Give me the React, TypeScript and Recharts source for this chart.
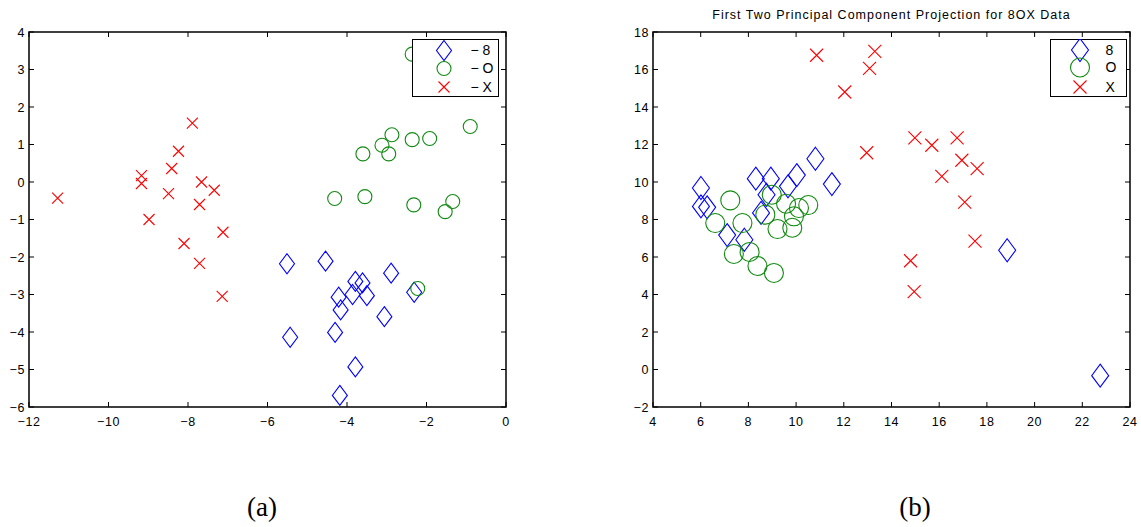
import React from "react";
import { ScatterChart, Scatter, XAxis, YAxis, ReferenceArea } from "recharts";

// ---------- data ----------
const leftEight: [number, number][] = [
  [-5.51, -2.18], [-4.54, -2.11], [-2.89, -2.43], [-3.79, -2.65], [-3.61, -2.69],
  [-4.21, -3.07], [-3.86, -3.0], [-3.5, -3.03], [-2.31, -2.94], [-4.16, -3.41],
  [-3.06, -3.59], [-4.3, -4.01], [-5.43, -4.14], [-3.79, -4.93], [-4.18, -5.69],
];
const leftO: [number, number][] = [
  [-2.36, 3.41], [-0.9, 1.48], [-2.87, 1.26], [-2.36, 1.13], [-1.92, 1.16],
  [-3.12, 0.98], [-3.6, 0.75], [-2.95, 0.75], [-4.31, -0.44], [-3.55, -0.39],
  [-2.32, -0.61], [-1.34, -0.52], [-1.53, -0.79], [-2.22, -2.84],
];
const leftX: [number, number][] = [
  [-11.28, -0.43], [-9.17, 0.17], [-9.17, -0.04], [-8.98, -1.0], [-8.49, -0.31],
  [-8.41, 0.36], [-8.24, 0.82], [-7.89, 1.57], [-8.1, -1.64], [-7.66, 0.0],
  [-7.71, -0.6], [-7.71, -2.17], [-7.34, -0.22], [-7.12, -1.34], [-7.14, -3.05],
];

const rightEight: [number, number][] = [
  [6.01, 9.68], [6.01, 8.7], [6.27, 8.65], [7.11, 7.17], [7.83, 6.92],
  [8.31, 10.18], [8.94, 10.18], [8.76, 9.32], [8.53, 8.35], [9.66, 9.77],
  [10.03, 10.37], [10.81, 11.24], [11.5, 9.89], [18.85, 6.36], [22.75, -0.33],
];
const rightO: [number, number][] = [
  [7.24, 9.02], [6.61, 7.81], [7.75, 7.81], [7.39, 6.16], [8.05, 6.27],
  [8.38, 5.52], [9.07, 5.15], [8.98, 9.32], [8.71, 8.26], [9.58, 8.84],
  [9.22, 7.49], [9.84, 7.56], [9.91, 8.17], [10.12, 8.61], [10.51, 8.77],
];
const rightX: [number, number][] = [
  [10.86, 16.76], [13.3, 16.97], [13.08, 16.06], [12.04, 14.8], [12.96, 11.56],
  [14.98, 12.35], [15.69, 11.96], [16.75, 12.35], [16.95, 11.16], [17.59, 10.71],
  [16.11, 10.3], [17.07, 8.93], [17.5, 6.85], [14.8, 5.8], [14.95, 4.15],
];

const leftXTicks = [-12, -10, -8, -6, -4, -2, 0];
const leftYTicks = [-6, -5, -4, -3, -2, -1, 0, 1, 2, 3, 4];
const rightXTicks = [4, 6, 8, 10, 12, 14, 16, 18, 20, 22, 24];
const rightYTicks = [-2, 0, 2, 4, 6, 8, 10, 12, 14, 16, 18];

const leftLegendLabels = ["\u2212 8", "\u2212 O", "\u2212 X"];
const rightLegendLabels = ["8", "O", "X"];
const rightTitle = "First Two Principal Component Projection for 8OX Data";
const panelLabels = ["(a)", "(b)"];

// ---------- styling ----------
const BLUE = "#0000ff";
const GREEN = "#118a11";
const RED = "#ff0000";
const SANS = "'Liberation Sans', Arial, Helvetica, sans-serif";
const SERIF = "'Liberation Serif', 'DejaVu Serif', serif";

// plot area inside each 520x440 chart
const PLOT_TOP = 32;
const PLOT_BOTTOM = 407;
const PLOT_LEFT = 29;
const PLOT_RIGHT = 506;
const TICK_LEN = 5;

const toPts = (arr: [number, number][]) => arr.map(([x, y]) => ({ x, y }));
const fmt = (v: number) => (v < 0 ? "\u2212" + Math.abs(v) : String(v));

type Sz = { dw: number; dh: number; r: number; xs: number };

const diamondPath = (cx: number, cy: number, w: number, h: number) =>
  `M${cx},${cy - h}L${cx + w},${cy}L${cx},${cy + h}L${cx - w},${cy}Z`;

const makeDiamond = (s: Sz) => (p: any) => (
  <path d={diamondPath(p.cx, p.cy, s.dw, s.dh)} fill="none" stroke={BLUE} strokeWidth={1.1} />
);
const makeCircle = (s: Sz) => (p: any) => (
  <circle cx={p.cx} cy={p.cy} r={s.r} fill="none" stroke={GREEN} strokeWidth={1.1} />
);
const makeCross = (s: Sz) => (p: any) => (
  <path
    d={`M${p.cx - s.xs},${p.cy - s.xs}L${p.cx + s.xs},${p.cy + s.xs}M${p.cx - s.xs},${p.cy + s.xs}L${p.cx + s.xs},${p.cy - s.xs}`}
    fill="none"
    stroke={RED}
    strokeWidth={1.1}
  />
);

const labelStyle = { fontSize: 12.5, fill: "#000", fontFamily: SANS, letterSpacing: 0.6 } as const;

const XTick = (p: any) => {
  const x = p.x;
  const v = p.payload?.value;
  return (
    <g>
      <line x1={x} x2={x} y1={PLOT_BOTTOM} y2={PLOT_BOTTOM - TICK_LEN} stroke="#000" strokeWidth={1} />
      <line x1={x} x2={x} y1={PLOT_TOP} y2={PLOT_TOP + TICK_LEN} stroke="#000" strokeWidth={1} />
      <text x={x} y={PLOT_BOTTOM + 19} textAnchor="middle" style={labelStyle}>
        {fmt(v)}
      </text>
    </g>
  );
};

const YTick = (p: any) => {
  const y = p.y;
  const v = p.payload?.value;
  return (
    <g>
      <line x1={PLOT_LEFT} x2={PLOT_LEFT + TICK_LEN} y1={y} y2={y} stroke="#000" strokeWidth={1} />
      <line x1={PLOT_RIGHT} x2={PLOT_RIGHT - TICK_LEN} y1={y} y2={y} stroke="#000" strokeWidth={1} />
      <text x={PLOT_LEFT - 4} y={y + 4.5} textAnchor="end" style={labelStyle}>
        {fmt(v)}
      </text>
    </g>
  );
};

type PanelProps = {
  left: number;
  xDomain: [number, number];
  yDomain: [number, number];
  xTicks: number[];
  yTicks: number[];
  eight: [number, number][];
  oo: [number, number][];
  xx: [number, number][];
  size: Sz;
};

const Panel = ({ left, xDomain, yDomain, xTicks, yTicks, eight, oo, xx, size }: PanelProps) => (
  <div style={{ position: "absolute", left, top: 0 }}>
    <ScatterChart
      width={520}
      height={440}
      margin={{ top: PLOT_TOP, right: 520 - PLOT_RIGHT, bottom: 0, left: 0 }}
    >
      <XAxis
        xAxisId="b"
        type="number"
        dataKey="x"
        domain={xDomain}
        ticks={xTicks}
        interval={0}
        allowDataOverflow
        height={440 - PLOT_BOTTOM}
        tickLine={false}
        axisLine={false}
        tick={XTick}
      />
      <YAxis
        yAxisId="l"
        type="number"
        dataKey="y"
        domain={yDomain}
        ticks={yTicks}
        interval={0}
        allowDataOverflow
        width={PLOT_LEFT}
        tickLine={false}
        axisLine={false}
        tick={YTick}
      />
      <ReferenceArea
        xAxisId="b"
        yAxisId="l"
        x1={xDomain[0]}
        x2={xDomain[1]}
        y1={yDomain[0]}
        y2={yDomain[1]}
        fill="none"
        fillOpacity={0}
        stroke="#000"
        strokeWidth={1.5}
        strokeOpacity={1}
      />
      <Scatter xAxisId="b" yAxisId="l" data={toPts(eight)} shape={makeDiamond(size)} isAnimationActive={false} />
      <Scatter xAxisId="b" yAxisId="l" data={toPts(oo)} shape={makeCircle(size)} isAnimationActive={false} />
      <Scatter xAxisId="b" yAxisId="l" data={toPts(xx)} shape={makeCross(size)} isAnimationActive={false} />
    </ScatterChart>
  </div>
);

type LegendProps = {
  left: number;
  width: number;
  labels: string[];
  markerX: number;
  textX: number;
  rows: number[];
  size: Sz;
};

const LegendBox = ({ left, width, labels, markerX, textX, rows, size }: LegendProps) => {
  const shapes = [makeDiamond(size), makeCircle(size), makeCross(size)];
  return (
    <div
      style={{
        position: "absolute",
        left,
        top: 39,
        width,
        height: 58,
        border: "1.5px solid #000",
        background: "#fff",
        boxSizing: "border-box",
      }}
    >
      <svg width={width} height={58} style={{ position: "absolute", left: -1.5, top: -1.5 }}>
        {rows.map((ry, i) => (
          <g key={i}>{shapes[i]({ cx: markerX, cy: ry })}</g>
        ))}
      </svg>
      {labels.map((lab, i) => (
        <div
          key={lab}
          style={{
            position: "absolute",
            left: textX - 1.5,
            top: rows[i] - 1.5 - 8,
            height: 16,
            lineHeight: "16px",
            fontSize: 14,
            fontFamily: SANS,
            color: "#000",
            whiteSpace: "pre",
          }}
        >
          {lab}
        </div>
      ))}
    </div>
  );
};

const smallSize: Sz = { dw: 7.5, dh: 10, r: 7, xs: 5.5 };
const bigSize: Sz = { dw: 8.5, dh: 11.5, r: 9.5, xs: 6.5 };

export default function App() {
  return (
    <div style={{ position: "absolute", left: 0, top: 0, width: 1141, height: 527, background: "#fff", overflow: "hidden" }}>
      <Panel
        left={0}
        xDomain={[-12, 0]}
        yDomain={[-6, 4]}
        xTicks={leftXTicks}
        yTicks={leftYTicks}
        eight={leftEight}
        oo={leftO}
        xx={leftX}
        size={smallSize}
      />
      <Panel
        left={624}
        xDomain={[4, 24]}
        yDomain={[-2, 18]}
        xTicks={rightXTicks}
        yTicks={rightYTicks}
        eight={rightEight}
        oo={rightO}
        xx={rightX}
        size={bigSize}
      />
      <LegendBox left={412} width={87} labels={leftLegendLabels} markerX={32} textX={59} rows={[11.5, 29.5, 48]} size={smallSize} />
      <LegendBox left={1050} width={77} labels={rightLegendLabels} markerX={30} textX={56} rows={[11, 28.5, 48]} size={bigSize} />
      <div
        style={{
          position: "absolute",
          left: 653,
          width: 477,
          top: 7,
          textAlign: "center",
          fontSize: 12.5,
          letterSpacing: 1.0,
          fontFamily: SANS,
          color: "#000",
          lineHeight: "16px",
          whiteSpace: "nowrap",
        }}
      >
        {rightTitle}
      </div>
      <div
        style={{
          position: "absolute",
          left: 212,
          width: 100,
          top: 490,
          textAlign: "center",
          fontSize: 27,
          fontFamily: SERIF,
          color: "#000",
          lineHeight: "34px",
        }}
      >
        {panelLabels[0]}
      </div>
      <div
        style={{
          position: "absolute",
          left: 865,
          width: 100,
          top: 490,
          textAlign: "center",
          fontSize: 27,
          fontFamily: SERIF,
          color: "#000",
          lineHeight: "34px",
        }}
      >
        {panelLabels[1]}
      </div>
    </div>
  );
}
